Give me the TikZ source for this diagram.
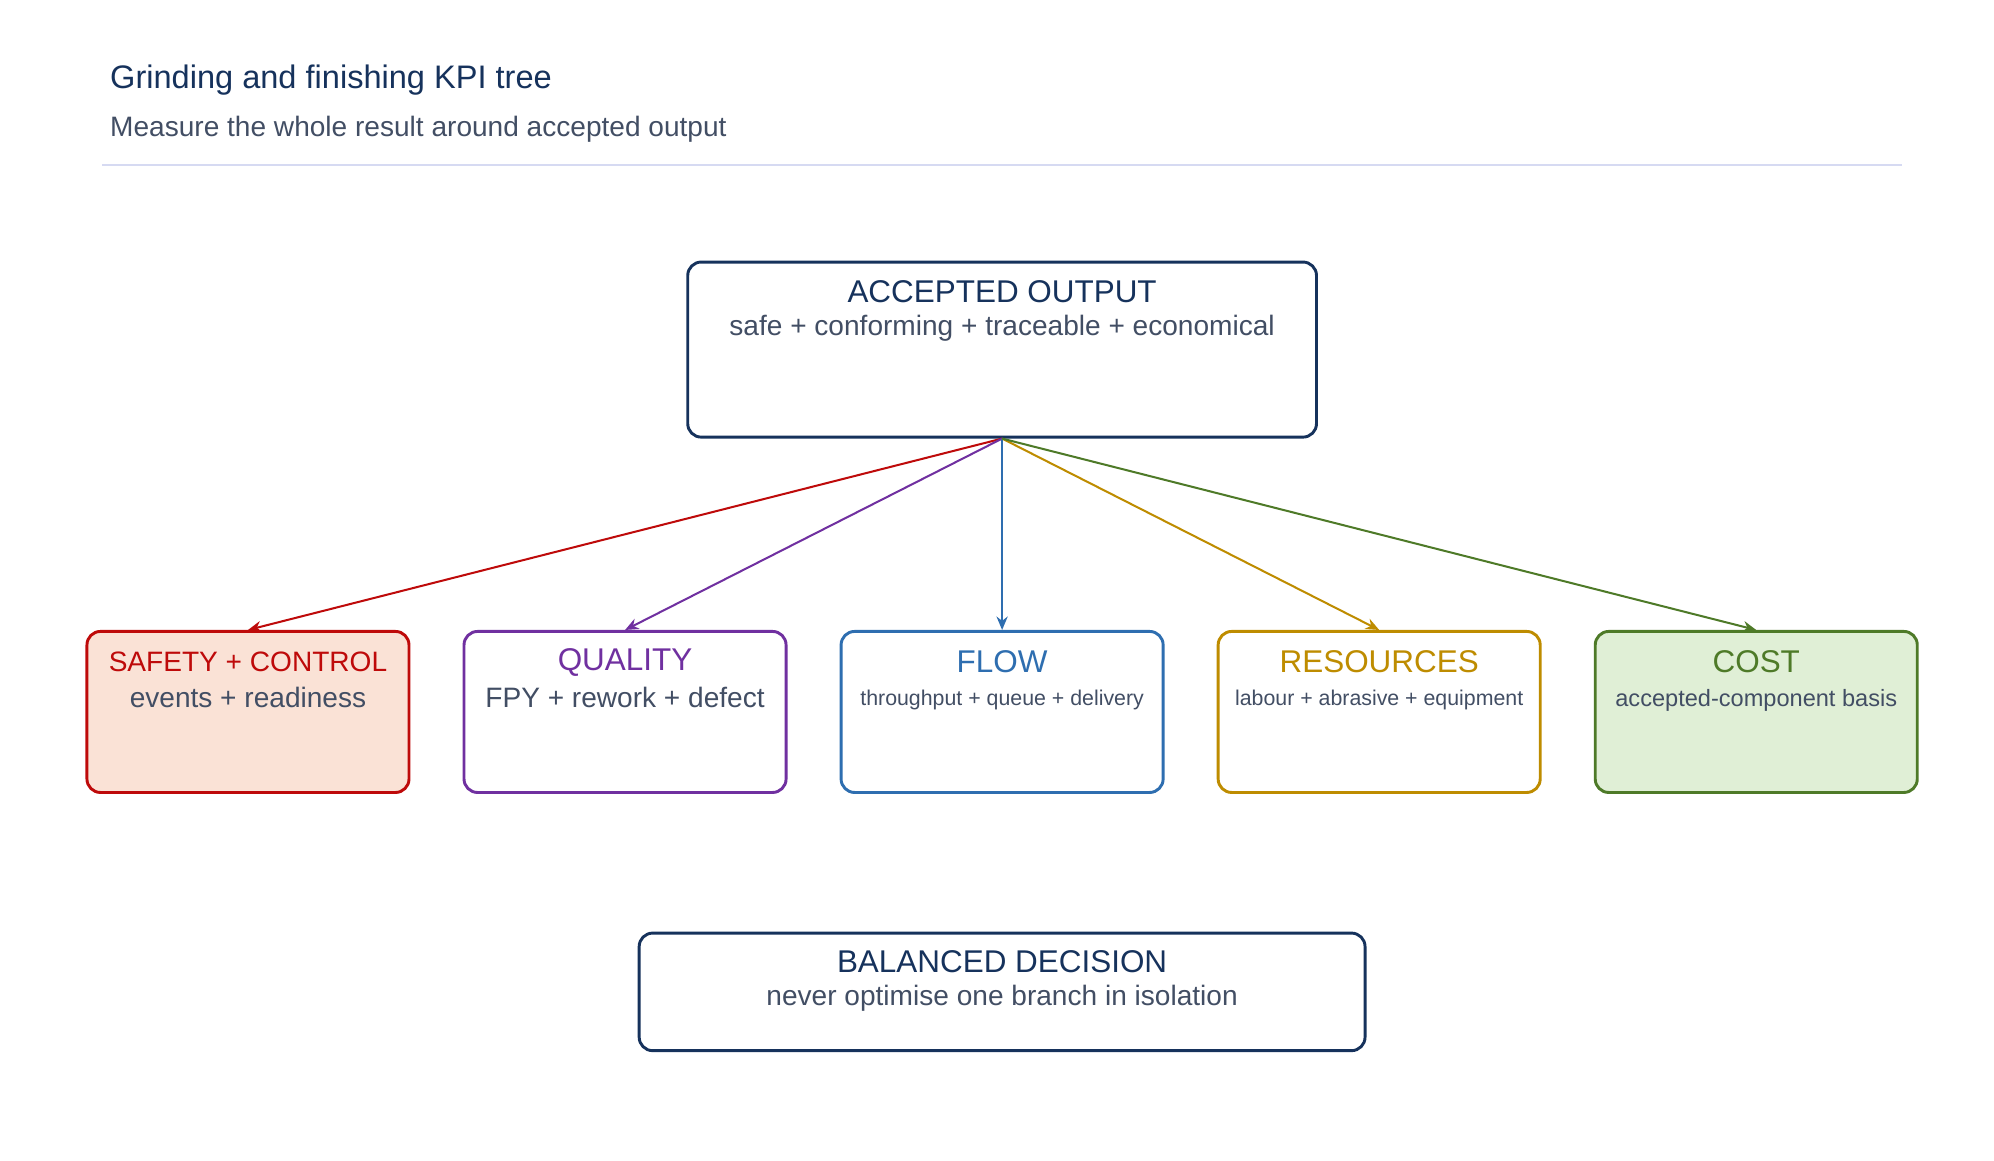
\documentclass[tikz,border=0pt]{standalone}
\usepackage{fontspec}
\setmainfont{Liberation Sans}
\usetikzlibrary{arrows.meta, positioning}
\definecolor{navy}{RGB}{22,50,92}
\definecolor{slate}{RGB}{66,78,100}
\definecolor{rulecol}{RGB}{214,218,242}
\definecolor{safetyred}{RGB}{190,10,10}
\definecolor{safetyfill}{RGB}{250,226,214}
\definecolor{qualpurple}{RGB}{112,48,160}
\definecolor{flowblue}{RGB}{46,110,176}
\definecolor{resgold}{RGB}{190,140,0}
\definecolor{costgreen}{RGB}{78,122,40}
\definecolor{costfill}{RGB}{224,239,214}

\begin{document}
\begin{tikzpicture}[x=0.02cm, y=-0.02cm,
    >={Stealth[length=6pt,width=5pt]},
    kpibox/.style={rectangle, draw, line width=1.3pt, rounded corners=6pt,
        minimum width=5.04cm, minimum height=2.52cm, fill=white},
    headtext/.style={font=\fontsize{14}{16}\selectfont, anchor=center},
    subtext/.style={font=\fontsize{12.5}{15}\selectfont, text=slate, anchor=center},
    smalltext/.style={font=\fontsize{9.5}{12}\selectfont, text=slate, anchor=center},
    branch/.style={->, line width=0.9pt},
]
\useasboundingbox (0,0) rectangle (1560,908);

% === HEADER ===
\node[anchor=west, text=navy, font=\fontsize{14.5}{17}\selectfont] (title) at (80,63) {Grinding and finishing KPI tree};
\node[anchor=west, text=slate, font=\fontsize{12.5}{15}\selectfont] (subtitle) at (80,101) {Measure the whole result around accepted output};
\coordinate (ruleL) at (80,129);
\coordinate (ruleR) at (1488,129);
\draw[rulecol, line width=0.8pt] (ruleL) -- (ruleR);

% === ROOT ===
\node[kpibox, draw=navy, minimum width=9.84cm, minimum height=2.74cm] (root) at (784,273.5) {};
\node[headtext, text=navy] (roothead) at (784,228) {ACCEPTED OUTPUT};
\node[subtext] (rootsub) at (784,257) {safe + conforming + traceable + economical};

% === BRANCHES ===
\node[kpibox, draw=safetyred, fill=safetyfill] (safety) at (194,557) {};
\node[font=\fontsize{12.5}{15}\selectfont, text=safetyred] at (194,518) {SAFETY + CONTROL};
\node[subtext] at (194,546) {events + readiness};

\node[kpibox, draw=qualpurple] (quality) at (489,557) {};
\node[headtext, text=qualpurple] at (489,518) {QUALITY};
\node[subtext] at (489,546) {FPY + rework + defect};

\node[kpibox, draw=flowblue] (flow) at (784,557) {};
\node[headtext, text=flowblue] at (784,518) {FLOW};
\node[smalltext] at (784,548) {throughput + queue + delivery};

\node[kpibox, draw=resgold] (resources) at (1079,557) {};
\node[headtext, text=resgold] at (1079,518) {RESOURCES};
\node[smalltext] at (1079,548) {labour + abrasive + equipment};

\node[kpibox, draw=costgreen, fill=costfill] (cost) at (1374,557) {};
\node[headtext, text=costgreen] at (1374,518) {COST};
\node[smalltext, font=\fontsize{10.5}{13}\selectfont] at (1374,548) {accepted-component basis};

% === DECISION ===
\node[kpibox, draw=navy, minimum width=11.36cm, minimum height=1.84cm] (decision) at (784,776) {};
\node[headtext, text=navy] at (784,752) {BALANCED DECISION};
\node[subtext] at (784,781) {never optimise one branch in isolation};

% === ARROWS ===
\draw[branch, safetyred] (root.south) -- (safety.north);
\draw[branch, qualpurple] (root.south) -- (quality.north);
\draw[branch, flowblue] (root.south) -- (flow.north);
\draw[branch, resgold] (root.south) -- (resources.north);
\draw[branch, costgreen] (root.south) -- (cost.north);

\end{tikzpicture}
\end{document}
